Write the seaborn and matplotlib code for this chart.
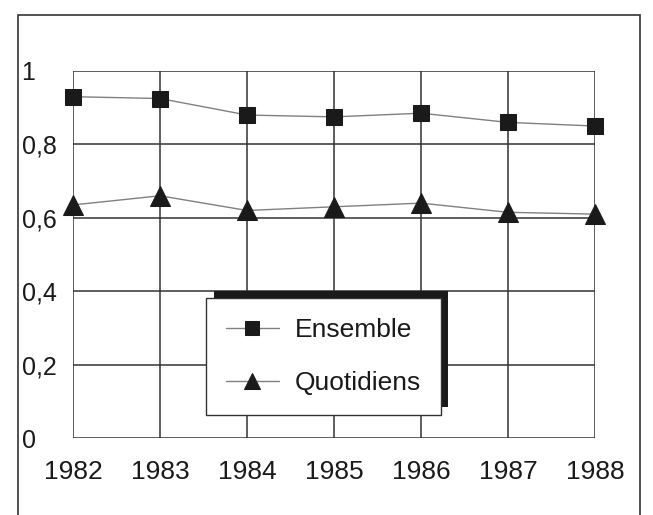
import matplotlib.pyplot as plt
import matplotlib.patheffects as pe
import pandas as pd
import seaborn as sns
from matplotlib.patches import Rectangle

years = [1982, 1983, 1984, 1985, 1986, 1987, 1988]
ensemble = [0.93, 0.925, 0.88, 0.875, 0.885, 0.86, 0.85]
quotidiens = [0.635, 0.66, 0.62, 0.63, 0.64, 0.615, 0.61]
y_ticks = [0, 0.2, 0.4, 0.6, 0.8, 1]
y_labels = ['0', '0,2', '0,4', '0,6', '0,8', '1']


def run():
    df = pd.DataFrame({'annee': years, 'Ensemble': ensemble,
                       'Quotidiens': quotidiens})
    plot_chart(df)


def plot_chart(df):
    sns.set_style('white')
    plt.rcParams['font.family'] = ['Liberation Sans', 'DejaVu Sans']

    fig = plt.figure(figsize=(6.53, 5.15), dpi=100)
    ax = fig.add_axes([73 / 653, 1 - 438 / 515, 522 / 653, 367 / 515])

    sns.lineplot(ax=ax, data=df, x='annee', y='Ensemble', label='Ensemble',
                 color='0.5', lw=1.0, marker='s', markersize=12,
                 markerfacecolor='0.1', markeredgecolor='0.1', zorder=3,
                 clip_on=False)
    sns.lineplot(ax=ax, data=df, x='annee', y='Quotidiens', label='Quotidiens',
                 color='0.5', lw=1.0, marker='^', markersize=14,
                 markerfacecolor='0.1', markeredgecolor='0.1', zorder=3,
                 clip_on=False)

    ax.set_xlim(years[0], years[-1])
    ax.set_ylim(0, 1)
    ax.set_xticks(years)
    ax.set_yticks(y_ticks)
    ax.set_yticklabels(y_labels)
    ax.set_xlabel('')
    ax.set_ylabel('')
    ax.grid(True, color='0.2', lw=1.1)
    for s in ax.spines.values():
        s.set_visible(False)
    ax.tick_params(axis='both', length=0, colors='0.1')
    ax.tick_params(axis='x', pad=16, labelsize=19)
    ax.tick_params(axis='y', pad=37, labelsize=18)
    for lab in ax.get_yticklabels():
        lab.set_horizontalalignment('left')

    leg = ax.legend(loc='lower left', bbox_to_anchor=(0.255, 0.063),
                    fontsize=19, frameon=True, fancybox=False,
                    borderpad=0.75, labelspacing=1.1, handlelength=2.0,
                    handletextpad=0.6, borderaxespad=0, markerscale=0.85)
    frame = leg.get_frame()
    frame.set_edgecolor('0.2')
    frame.set_linewidth(1.0)
    frame.set_facecolor('white')
    frame.set_alpha(1)
    frame.set_path_effects([pe.SimplePatchShadow(offset=(5.5, 5.5),
                                                 shadow_rgbFace='0.1',
                                                 alpha=1),
                            pe.Normal()])
    for t in leg.get_texts():
        t.set_color('0.1')

    # outer frame of the scanned figure
    fig.patches.append(Rectangle((18 / 653, -0.1), 622 / 653, 1.1 - 15 / 515,
                                 transform=fig.transFigure, fill=False,
                                 edgecolor='0.2', lw=1.2))

    fig.savefig('out.png', dpi=100)


if __name__ == "__main__":
    run()
